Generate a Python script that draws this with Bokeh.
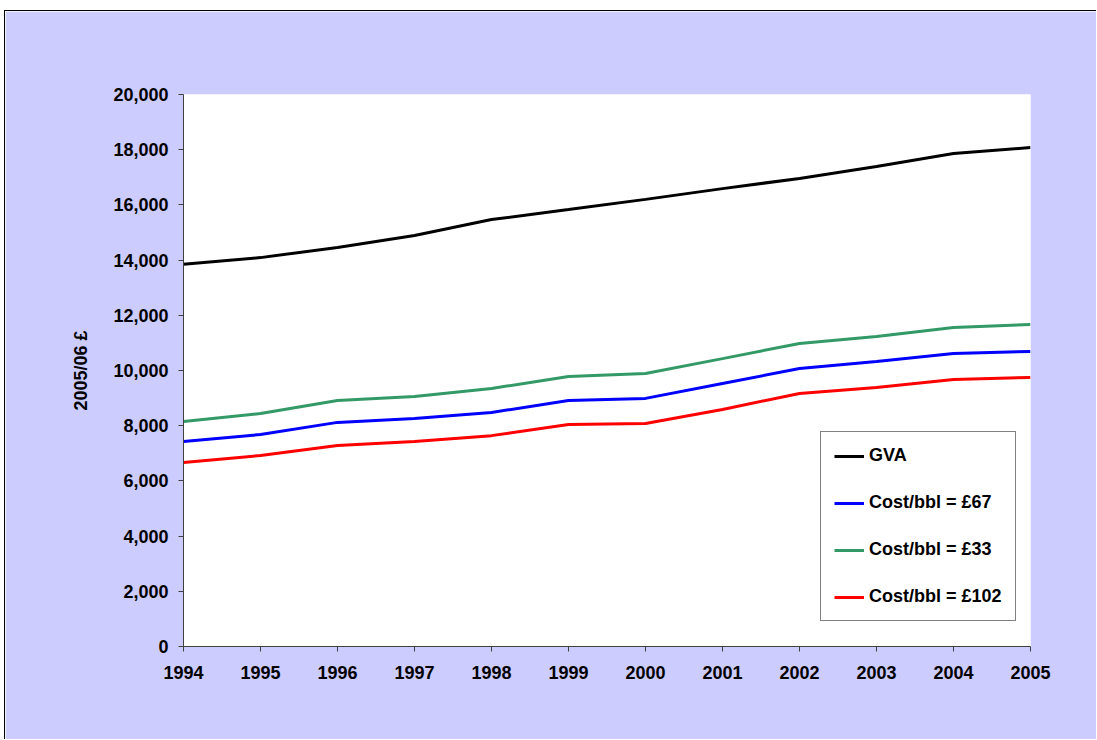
from bokeh.plotting import figure
from bokeh.models import ColumnDataSource, Legend, LegendItem, FixedTicker, NumeralTickFormatter, Range1d
from bokeh.embed import file_html
from bokeh.resources import INLINE

years = [1994, 1995, 1996, 1997, 1998, 1999, 2000, 2001, 2002, 2003, 2004, 2005]
gva = [13850, 14090, 14460, 14890, 15470, 15830, 16200, 16590, 16960, 17390, 17860, 18080]
cost_67 = [7430, 7680, 8120, 8260, 8480, 8910, 8990, 9530, 10070, 10330, 10620, 10690]
cost_33 = [8150, 8440, 8910, 9060, 9350, 9780, 9890, 10430, 10980, 11230, 11560, 11670]
cost_102 = [6670, 6920, 7280, 7430, 7640, 8040, 8080, 8590, 9170, 9380, 9670, 9750]

series = [
    ("GVA", gva, "#000000"),
    ("Cost/bbl = £67", cost_67, "#0000FF"),
    ("Cost/bbl = £33", cost_33, "#339966"),
    ("Cost/bbl = £102", cost_102, "#FF0000"),
]

FONT = "Liberation Sans"
BG = "#CCCCFF"

p = figure(width=1092, height=729, output_backend="svg", toolbar_location=None,
           x_range=Range1d(1994, 2005), y_range=Range1d(0, 20000),
           min_border_left=178, min_border_right=67, min_border_top=83, min_border_bottom=94)
p.styles = {"border-top": "1px solid black", "border-left": "1px solid black",
            "margin-left": "4px", "margin-top": "10px"}
p.background_fill_color = "white"
p.border_fill_color = BG
p.outline_line_color = None
p.xgrid.visible = False
p.ygrid.visible = False

items = []
for name, vals, color in series:
    src = ColumnDataSource(dict(x=years, y=vals))
    r = p.line("x", "y", source=src, line_color=color, line_width=3)
    items.append(LegendItem(label=name, renderers=[r]))

p.xaxis.ticker = FixedTicker(ticks=years)
p.yaxis.ticker = FixedTicker(ticks=list(range(0, 20001, 2000)))
p.yaxis.formatter = NumeralTickFormatter(format="0,0")

for ax in (p.xaxis[0], p.yaxis[0]):
    ax.axis_line_color = "#404040"
    ax.axis_line_width = 1
    ax.major_tick_line_color = "#404040"
    ax.major_tick_out = 5
    ax.major_tick_in = 0
    ax.minor_tick_line_color = None
    ax.major_label_text_font = FONT
    ax.major_label_text_font_style = "bold"
    ax.major_label_text_font_size = "18px"
    ax.major_label_text_color = "black"

p.xaxis.major_label_standoff = 14
p.yaxis.major_label_standoff = 10
p.yaxis.axis_label = "2005/06 £"
p.yaxis.axis_label_text_font = FONT
p.yaxis.axis_label_text_font_style = "bold"
p.yaxis.axis_label_text_font_size = "18px"
p.yaxis.axis_label_text_color = "black"
p.yaxis.axis_label_standoff = 19

legend = Legend(items=items, location=(637, 25))
legend.label_text_font = FONT
legend.label_text_font_style = "bold"
legend.label_text_font_size = "18px"
legend.label_text_color = "black"
legend.glyph_width = 30
legend.glyph_height = 20
legend.label_height = 20
legend.label_standoff = 5
legend.spacing = 26
legend.padding = 13
legend.margin = 0
legend.border_line_color = "black"
legend.border_line_width = 1
legend.background_fill_color = "white"
legend.background_fill_alpha = 1
p.add_layout(legend, "center")

open("out.html", "w").write(file_html(p, INLINE))
